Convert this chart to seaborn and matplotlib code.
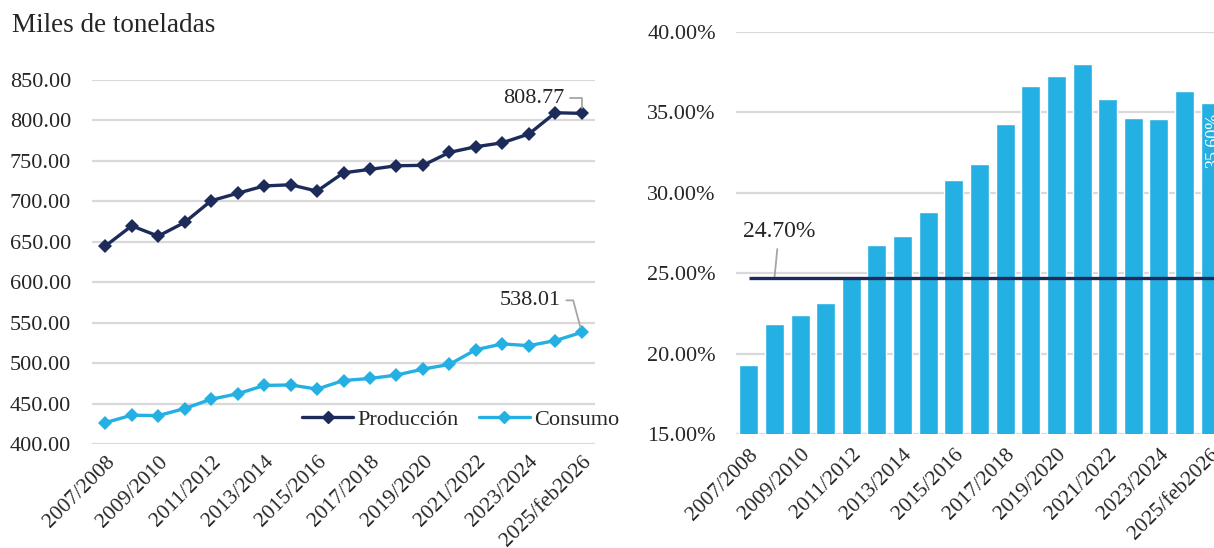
import matplotlib
matplotlib.use("Agg")
import matplotlib.pyplot as plt
import seaborn as sns
import pandas as pd
import numpy as np
from matplotlib.lines import Line2D

# ---------------- data ----------------
seasons = ["2007/2008", "2008/2009", "2009/2010", "2010/2011", "2011/2012", "2012/2013",
           "2013/2014", "2014/2015", "2015/2016", "2016/2017", "2017/2018", "2018/2019",
           "2019/2020", "2020/2021", "2021/2022", "2022/2023", "2023/2024", "2024/2025",
           "2025/feb2026"]
produccion = [644.6, 669.7, 657.0, 674.0, 700.7, 710.0, 719.0, 720.5, 712.6, 735.3,
              739.5, 744.0, 744.5, 760.5, 767.5, 772.4, 783.2, 809.5, 808.77]
consumo = [426.4, 435.6, 435.1, 443.8, 455.4, 462.0, 472.4, 473.0, 467.9, 478.5,
           481.0, 485.2, 492.6, 498.4, 516.6, 523.7, 521.6, 527.8, 538.01]
ratio_pct = [19.29, 21.81, 22.41, 23.14, 24.77, 26.75, 27.29, 28.82, 30.79, 31.76,
             34.27, 36.67, 37.29, 38.01, 35.82, 34.66, 34.60, 36.34, 35.60]
promedio_pct = 24.70
left_title = "Miles de toneladas"
series_names = ["Producción", "Consumo"]

# ---------------- style ----------------
NAVY = "#1C2B5A"
CYAN = "#25B0E3"
GRID = "#D9D9D9"
LEADER = "#A6A6A6"

sns.set_theme(style="white")
plt.rcParams["font.family"] = ["Liberation Serif", "DejaVu Serif"]
FS = 16
FSX = 15.5

fig = plt.figure(figsize=(12.14, 5.48), dpi=100)
W, H = 1214, 548

def px_axes(l, r, t, b):
    return fig.add_axes([l / W, 1 - b / H, (r - l) / W, (b - t) / H])

# ---------------- left panel: lines ----------------
ax1 = px_axes(92, 595, 80, 444)
df = pd.DataFrame({
    "idx": list(range(len(seasons))) * 2,
    "valor": produccion + consumo,
    "serie": [series_names[0]] * len(seasons) + [series_names[1]] * len(seasons),
})
sns.lineplot(data=df, x="idx", y="valor", hue="serie", palette=[NAVY, CYAN],
             marker="D", markersize=7, markeredgewidth=0, linewidth=2.4, ax=ax1,
             legend=False, zorder=3)
ax1.set_xlim(-0.5, len(seasons) - 0.5)
ax1.set_ylim(400, 850)
yt1 = np.arange(400, 851, 50)
ax1.set_yticks(yt1)
ax1.set_yticklabels([f"{v:.2f}" for v in yt1], fontsize=FS)
ax1.grid(axis="y", color=GRID, linewidth=1.6, zorder=0)
ax1.grid(axis="x", visible=False)
for s in ax1.spines.values():
    s.set_visible(False)
ax1.tick_params(axis="y", length=0, pad=15)
ax1.tick_params(axis="x", length=0, pad=6)
xt = list(range(0, len(seasons), 2))
ax1.set_xticks(xt)
ax1.set_xticklabels([seasons[i] for i in xt], rotation=45, ha="right",
                    rotation_mode="anchor", fontsize=FSX)
ax1.set_xlabel("")
ax1.set_ylabel("")
fig.text(12 / W, 1 - 25 / H, left_title, fontsize=19.5, va="center", ha="left")

handles = [Line2D([], [], color=NAVY, marker="D", markersize=6, linewidth=2.4),
           Line2D([], [], color=CYAN, marker="D", markersize=6, linewidth=2.4)]
ax1.legend(handles, series_names, loc="center left", bbox_to_anchor=(0.40, 0.066),
           ncol=2, frameon=False, fontsize=FS, handlelength=2.3, handletextpad=0.2,
           columnspacing=0.9, borderaxespad=0)

ax1.annotate(f"{produccion[-1]:.2f}", xy=(len(seasons) - 1, produccion[-1]),
             xytext=(-48, 15), textcoords="offset pixels", ha="center", va="center",
             fontsize=FS,
             arrowprops=dict(arrowstyle="-", color=LEADER, lw=1.3,
                             connectionstyle="angle,angleA=0,angleB=90,rad=0",
                             shrinkA=2, shrinkB=4))
ax1.annotate(f"{consumo[-1]:.2f}", xy=(len(seasons) - 1, consumo[-1]),
             xytext=(-52, 32), textcoords="offset pixels", ha="center", va="center",
             fontsize=FS,
             arrowprops=dict(arrowstyle="-", color=LEADER, lw=1.3,
                             connectionstyle="angle,angleA=0,angleB=105,rad=0",
                             shrinkA=2, shrinkB=4))

# ---------------- right panel: bars ----------------
ax2 = px_axes(736, 1223, 32, 434)
dfb = pd.DataFrame({"season": seasons, "ratio": ratio_pct})
sns.barplot(data=dfb, x="season", y="ratio", color=CYAN, saturation=1, width=0.74,
            ax=ax2, zorder=2)
ax2.set_ylim(15, 40)
ax2.set_xlim(-0.5, len(seasons) - 0.5)
yt2 = np.arange(15, 40.1, 5)
ax2.set_yticks(yt2)
ax2.set_yticklabels([f"{v:.2f}%" for v in yt2], fontsize=FS)
ax2.grid(axis="y", color=GRID, linewidth=1.6, zorder=0)
ax2.grid(axis="x", visible=False)
ax2.set_axisbelow(True)
for s in ax2.spines.values():
    s.set_visible(False)
ax2.tick_params(axis="y", length=0, pad=14.5)
ax2.tick_params(axis="x", length=0, pad=8)
ax2.set_xticks(xt)
ax2.set_xticklabels([seasons[i] for i in xt], rotation=45, ha="right",
                    rotation_mode="anchor", fontsize=FSX)
ax2.set_xlabel("")
ax2.set_ylabel("")
ax2.plot([0, len(seasons) - 1 + 0.4], [promedio_pct, promedio_pct], color=NAVY,
         linewidth=2.4, zorder=4, solid_capstyle="butt")
ax2.annotate(f"{promedio_pct:.2f}%", xy=(1, promedio_pct), xytext=(1.18, 27.62),
             textcoords="data", ha="center", va="center", fontsize=17,
             arrowprops=dict(arrowstyle="-", color=LEADER, lw=1.3, shrinkA=3, shrinkB=0))
ax2.annotate(f"{ratio_pct[-1]:.2f}%", xy=(len(seasons) - 1, ratio_pct[-1]),
             xytext=(3, -10), textcoords="offset pixels", ha="center", va="top",
             rotation=90, color="white", fontsize=13)

fig.savefig("out.png", dpi=100)
